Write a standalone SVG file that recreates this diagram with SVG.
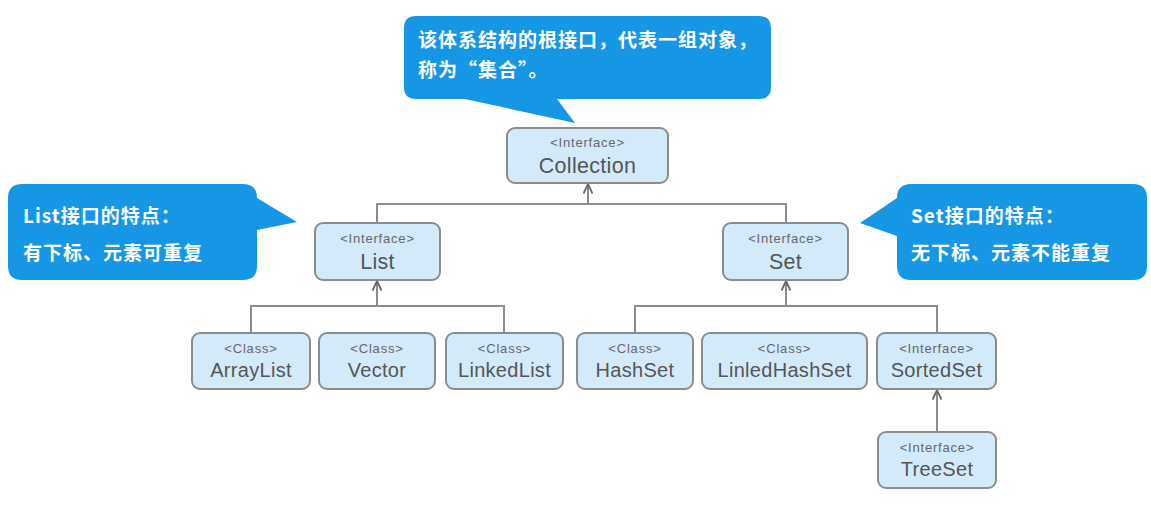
<svg xmlns="http://www.w3.org/2000/svg" width="1151" height="532" viewBox="0 0 1151 532">
<style>
.box{fill:#d3eafb;stroke:#8c8c8c;stroke-width:2}
.st{font-family:"Liberation Sans",Arial,sans-serif;font-size:13px;fill:#666;text-anchor:middle;letter-spacing:0.8px}
.nm{font-family:"Liberation Sans",Arial,sans-serif;font-size:20px;fill:#555;text-anchor:middle;letter-spacing:0.3px}
.nm2{font-family:"Liberation Sans",Arial,sans-serif;font-size:21.5px;fill:#555;text-anchor:middle;letter-spacing:0.3px}
.co{fill:#1697e6}
.ct{font-family:"Noto Sans CJK SC","Noto Sans",sans-serif;font-size:19px;font-weight:bold;fill:#fff;letter-spacing:1px}
.ln{fill:none;stroke:#8c8c8c;stroke-width:2}
</style>
<defs>
<marker id="arr" viewBox="0 0 10 10" refX="9.5" refY="5" markerWidth="10" markerHeight="10" markerUnits="userSpaceOnUse" orient="auto">
<path d="M0,0.5 L9.5,5 L0,9.5" fill="none" stroke="#666" stroke-width="1.8"/>
</marker>
</defs>
<rect width="1151" height="532" fill="#fff"/>
<g id="connectors">
<path class="ln" d="M377,223 V204 H786 V223"/>
<path class="ln" d="M588,204 V184" marker-end="url(#arr)"/>
<path class="ln" d="M251,333 V306 H504 V333"/>
<path class="ln" d="M377,306 V281" marker-end="url(#arr)"/>
<path class="ln" d="M635,333 V306 H937 V333"/>
<path class="ln" d="M786,306 V281" marker-end="url(#arr)"/>
<path class="ln" d="M937,432 V390" marker-end="url(#arr)"/>
</g>
<g id="callout-top">
<path class="co" d="M416,16 H759 Q771,16 771,28 V87 Q771,99 759,99 H557 L575,123 L465,99 H416 Q404,99 404,87 V28 Q404,16 416,16 Z"/>
<text class="ct" x="418" y="47">该体系结构的根接口，代表一组对象，</text>
<text class="ct" x="418" y="77">称为“集合”。</text>
</g>
<g id="callout-list">
<path class="co" d="M22,184 H243 Q257,184 257,198 L297,222 L257,230 V266 Q257,280 243,280 H22 Q8,280 8,266 V198 Q8,184 22,184 Z"/>
<text class="ct" x="23" y="223">List接口的特点：</text>
<text class="ct" x="23" y="260">有下标、元素可重复</text>
</g>
<g id="callout-set">
<path class="co" d="M911,184 H1133 Q1147,184 1147,198 V266 Q1147,280 1133,280 H911 Q897,280 897,266 V236 L860,223 L897,198 Q897,184 911,184 Z"/>
<text class="ct" x="911" y="223">Set接口的特点：</text>
<text class="ct" x="911" y="260">无下标、元素不能重复</text>
</g>
<g id="collection">
<rect class="box" x="507" y="128" width="161" height="55" rx="8"/>
<text class="st" x="587.5" y="147">&lt;Interface&gt;</text>
<text class="nm2" x="587.5" y="173">Collection</text>
</g>
<g id="list">
<rect class="box" x="315" y="223" width="125" height="57" rx="8"/>
<text class="st" x="377.5" y="243">&lt;Interface&gt;</text>
<text class="nm2" x="377.5" y="269">List</text>
</g>
<g id="set">
<rect class="box" x="723" y="223" width="125" height="57" rx="8"/>
<text class="st" x="785.5" y="243">&lt;Interface&gt;</text>
<text class="nm2" x="785.5" y="269">Set</text>
</g>
<g id="arraylist">
<rect class="box" x="192" y="333" width="118" height="56" rx="8"/>
<text class="st" x="251" y="353">&lt;Class&gt;</text>
<text class="nm" x="251" y="377">ArrayList</text>
</g>
<g id="vector">
<rect class="box" x="319" y="333" width="116" height="56" rx="8"/>
<text class="st" x="377" y="353">&lt;Class&gt;</text>
<text class="nm" x="377" y="377">Vector</text>
</g>
<g id="linkedlist">
<rect class="box" x="446" y="333" width="117" height="56" rx="8"/>
<text class="st" x="504.5" y="353">&lt;Class&gt;</text>
<text class="nm" x="504.5" y="377">LinkedList</text>
</g>
<g id="hashset">
<rect class="box" x="577" y="333" width="116" height="56" rx="8"/>
<text class="st" x="635" y="353">&lt;Class&gt;</text>
<text class="nm" x="635" y="377">HashSet</text>
</g>
<g id="linledhashset">
<rect class="box" x="702" y="333" width="165" height="56" rx="8"/>
<text class="st" x="784.5" y="353">&lt;Class&gt;</text>
<text class="nm" x="784.5" y="377">LinledHashSet</text>
</g>
<g id="sortedset">
<rect class="box" x="877" y="333" width="119" height="56" rx="8"/>
<text class="st" x="936.5" y="353">&lt;Interface&gt;</text>
<text class="nm" x="936.5" y="377">SortedSet</text>
</g>
<g id="treeset">
<rect class="box" x="878" y="432" width="118" height="56" rx="8"/>
<text class="st" x="937" y="452">&lt;Interface&gt;</text>
<text class="nm" x="937" y="476">TreeSet</text>
</g>
</svg>
